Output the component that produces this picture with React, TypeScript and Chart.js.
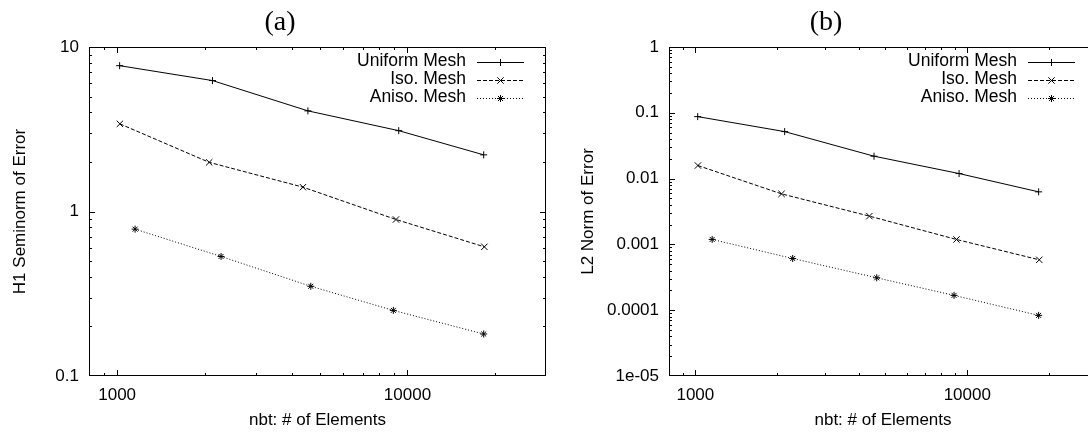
import React, { useEffect, useRef } from 'react';
import { Chart, registerables } from 'chart.js';

Chart.register(...registerables);

// ---- data ----
const seriesNames = ['Uniform Mesh', 'Iso. Mesh', 'Aniso. Mesh'];

const uniformElements = [1020, 2130, 4540, 9330, 18300];
const isoElements = [1022, 2075, 4365, 9130, 18400];
const anisoElements = [1153, 2280, 4645, 8940, 18300];

const h1Uniform = [7.7, 6.25, 4.09, 3.1, 2.21];
const h1Iso = [3.41, 1.99, 1.406, 0.894, 0.61];
const h1Aniso = [0.781, 0.533, 0.351, 0.2505, 0.18];

const l2Uniform = [0.0875, 0.0518, 0.0219, 0.01193, 0.00629];
const l2Iso = [0.01579, 0.00586, 0.00269, 0.001188, 0.000583];
const l2Aniso = [0.00119, 0.000611, 0.000311, 0.000168, 0.0000834];

const xTickValues = [1000, 10000];
const xTickLabels = ['1000', '10000'];
const h1TickValues = [0.1, 1, 10];
const h1TickLabels = ['0.1', '1', '10'];
const l2TickValues = [1e-5, 1e-4, 1e-3, 1e-2, 0.1, 1];
const l2TickLabels = ['1e-05', '0.0001', '0.001', '0.01', '0.1', '1'];

const X_MIN = 800;
const X_MAX = 30000;

// ---- styles ----
const FONT_FAMILY = '"Liberation Sans", Arial, Helvetica, sans-serif';
const FONT_SIZE = 17;
const seriesDash: number[][] = [[], [4, 2], [1, 2]];
const seriesPoint = ['cross', 'crossRot', 'star'];
const seriesRadius = [3.5, 4.5, 3.5];

function logMinorTicks(min: number, max: number) {
  const res: { v: number; major: boolean }[] = [];
  const e0 = Math.floor(Math.log10(min));
  const e1 = Math.ceil(Math.log10(max));
  for (let e = e0; e <= e1; e++) {
    for (let m = 1; m < 10; m++) {
      const v = m * Math.pow(10, e);
      if (v > min * 1.0001 && v < max / 1.0001) res.push({ v, major: m === 1 });
    }
  }
  return res;
}

function drawMarker(ctx: CanvasRenderingContext2D, style: string, x: number, y: number, r: number) {
  ctx.beginPath();
  if (style === 'cross' || style === 'star') {
    ctx.moveTo(x - r, y);
    ctx.lineTo(x + r, y);
    ctx.moveTo(x, y - r);
    ctx.lineTo(x, y + r);
  }
  if (style === 'crossRot' || style === 'star') {
    const d = r * Math.SQRT1_2;
    ctx.moveTo(x - d, y - d);
    ctx.lineTo(x + d, y + d);
    ctx.moveTo(x - d, y + d);
    ctx.lineTo(x + d, y - d);
  }
  ctx.stroke();
}

const framePlugin = {
  id: 'gnuFrame',
  afterDatasetsDraw(chart: any) {
    const { ctx, chartArea } = chart;
    const { left, right, top, bottom } = chartArea;
    const xs = chart.scales.x;
    const ys = chart.scales.y;
    ctx.save();
    ctx.strokeStyle = '#000';
    ctx.lineWidth = 1;
    ctx.setLineDash([]);
    ctx.strokeRect(left + 0.5, top + 0.5, right - left - 1, bottom - top - 1);
    ctx.beginPath();
    for (const t of logMinorTicks(xs.min, xs.max)) {
      const p = Math.round(xs.getPixelForValue(t.v)) + 0.5;
      const len = t.major ? 6 : 3;
      ctx.moveTo(p, bottom);
      ctx.lineTo(p, bottom - len);
      ctx.moveTo(p, top);
      ctx.lineTo(p, top + len);
    }
    for (const t of logMinorTicks(ys.min, ys.max)) {
      const p = Math.round(ys.getPixelForValue(t.v)) + 0.5;
      const len = t.major ? 6 : 3;
      ctx.moveTo(left, p);
      ctx.lineTo(left + len, p);
      ctx.moveTo(right, p);
      ctx.lineTo(right - len, p);
    }
    ctx.stroke();
    ctx.restore();
  },
};

const legendPlugin = {
  id: 'gnuLegend',
  afterDraw(chart: any) {
    const { ctx, chartArea } = chart;
    const right = chartArea.right;
    ctx.save();
    chart.data.datasets.forEach((ds: any, i: number) => {
      const y = 61.5 + i * 18;
      ctx.fillStyle = '#000';
      ctx.font = `17.5px ${FONT_FAMILY}`;
      ctx.textAlign = 'right';
      ctx.textBaseline = 'middle';
      ctx.fillText(ds.label, right - 80, y);
      ctx.strokeStyle = '#000';
      ctx.lineWidth = 1;
      ctx.setLineDash(ds.borderDash || []);
      ctx.beginPath();
      ctx.moveTo(right - 69, Math.round(y) + 0.5);
      ctx.lineTo(right - 22, Math.round(y) + 0.5);
      ctx.stroke();
      ctx.setLineDash([]);
      drawMarker(ctx, ds.pointStyle, right - 45.5, Math.round(y) + 0.5, ds.pointRadius);
    });
    ctx.restore();
  },
};

function makeTitlePlugin(text: string, x: number) {
  return {
    id: 'gnuTitle',
    afterDraw(chart: any) {
      const { ctx } = chart;
      ctx.save();
      ctx.fillStyle = '#000';
      ctx.font = '28px "Liberation Serif", "DejaVu Serif", serif';
      ctx.textAlign = 'center';
      ctx.textBaseline = 'alphabetic';
      ctx.fillText(text, x, 30);
      ctx.restore();
    },
  };
}

interface PanelProps {
  left: number;
  width: number;
  title: string;
  titleX: number;
  yTitle: string;
  yTitlePad: number;
  yWidth: number;
  plotRight: number;
  yMin: number;
  yMax: number;
  yTickValues: number[];
  yTickLabels: string[];
  values: number[][];
}

const elementSets = [uniformElements, isoElements, anisoElements];

function Panel(p: PanelProps) {
  const ref = useRef<HTMLCanvasElement>(null);
  useEffect(() => {
    const font = { family: FONT_FAMILY, size: FONT_SIZE };
    const chart = new Chart(ref.current as HTMLCanvasElement, {
      type: 'line',
      data: {
        datasets: seriesNames.map((name, i) => ({
          label: name,
          data: elementSets[i].map((x, j) => ({ x, y: p.values[i][j] })),
          borderColor: '#000',
          borderWidth: 1,
          borderDash: seriesDash[i],
          pointStyle: seriesPoint[i] as any,
          pointRadius: seriesRadius[i],
          pointBorderColor: '#000',
          pointBackgroundColor: '#000',
          pointBorderWidth: 1,
          fill: false,
          tension: 0,
        })),
      },
      options: {
        responsive: false,
        animation: false,
        devicePixelRatio: 1,
        layout: { padding: { top: 47, right: p.width - p.plotRight, left: 0, bottom: 0 } },
        plugins: {
          legend: { display: false },
          tooltip: { enabled: false },
          title: { display: false },
        },
        scales: {
          x: {
            type: 'logarithmic',
            min: X_MIN,
            max: X_MAX,
            grid: { display: false, drawTicks: false },
            border: { display: false },
            afterBuildTicks: (s: any) => {
              s.ticks = xTickValues.map((v) => ({ value: v }));
            },
            afterFit: (s: any) => {
              s.height = 58;
            },
            ticks: {
              callback: (_v: any, idx: number) => xTickLabels[idx],
              font,
              color: '#000',
              padding: 9,
              maxRotation: 0,
              autoSkip: false,
            },
            title: {
              display: true,
              text: 'nbt: # of Elements',
              font,
              color: '#000',
              padding: { top: 0, bottom: 3 },
            },
          },
          y: {
            type: 'logarithmic',
            min: p.yMin,
            max: p.yMax,
            grid: { display: false, drawTicks: false },
            border: { display: false },
            afterBuildTicks: (s: any) => {
              s.ticks = p.yTickValues.map((v) => ({ value: v }));
            },
            afterFit: (s: any) => {
              s.width = p.yWidth;
            },
            ticks: {
              callback: (_v: any, idx: number) => p.yTickLabels[idx],
              font,
              color: '#000',
              padding: 10,
              autoSkip: false,
            },
            title: {
              display: true,
              text: p.yTitle,
              font,
              color: '#000',
              padding: { top: p.yTitlePad, bottom: 0 },
            },
          },
        },
      } as any,
      plugins: [framePlugin, legendPlugin, makeTitlePlugin(p.title, p.titleX)],
    } as any);
    return () => chart.destroy();
  }, []);
  return (
    <canvas
      ref={ref}
      width={p.width}
      height={434}
      style={{ position: 'absolute', left: p.left, top: 0, width: p.width, height: 434 }}
    />
  );
}

export default function App() {
  return (
    <div
      style={{
        position: 'fixed',
        left: 0,
        top: 0,
        width: 1088,
        height: 434,
        overflow: 'hidden',
        background: '#fff',
      }}
    >
      <Panel
        left={0}
        width={556}
        title="(a)"
        titleX={280}
        yTitle="H1 Seminorm of Error"
        yTitlePad={10}
        yWidth={89}
        plotRight={546}
        yMin={0.1}
        yMax={10}
        yTickValues={h1TickValues}
        yTickLabels={h1TickLabels}
        values={[h1Uniform, h1Iso, h1Aniso]}
      />
      <Panel
        left={544}
        width={566}
        title="(b)"
        titleX={282}
        yTitle="L2 Norm of Error"
        yTitlePad={34}
        yWidth={125}
        plotRight={553}
        yMin={1e-5}
        yMax={1}
        yTickValues={l2TickValues}
        yTickLabels={l2TickLabels}
        values={[l2Uniform, l2Iso, l2Aniso]}
      />
    </div>
  );
}
